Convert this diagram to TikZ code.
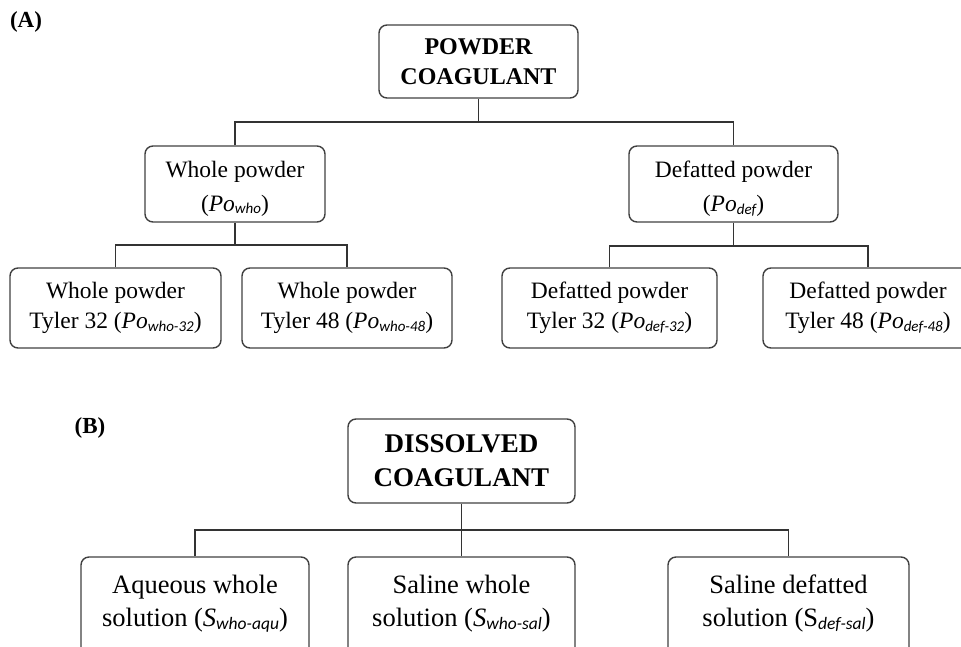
\documentclass[tikz,border=0pt]{standalone}
\usepackage{fontspec}
\setmainfont{Liberation Serif}
\newfontfamily\subfont{Carlito}
\newcommand\sbs[2][15]{\raisebox{-0.12em}{\subfont\itshape\fontsize{#1}{#1}\selectfont #2}}
\begin{document}
\begin{tikzpicture}[x=1pt,y=-1pt,
  box/.style={draw=black!75, line width=1.4pt, rounded corners=8pt, inner sep=0pt, align=center},
  atext/.style={align=center, inner sep=0pt, font=\fontsize{23.5}{34}\selectfont},
  ctext/.style={font=\fontsize{23.5}{30}\selectfont},
  ahead/.style={font=\fontsize{24}{30}\selectfont\bfseries},
  bhead/.style={font=\fontsize{27}{34}\selectfont\bfseries},
  btext/.style={align=center, inner sep=0pt, font=\fontsize{26.5}{33}\selectfont},
  lab/.style={font=\fontsize{23}{24}\selectfont\bfseries, inner sep=0pt},
  conn/.style={draw=black!80, line width=1.3pt}]
\useasboundingbox (0,0) rectangle (961,646);
\clip (0,0) rectangle (961,646);
% (A)
\node[lab] (la) at (26,22) {(A)};
\node[box, ahead, minimum width=199, minimum height=73] (pc) at (478.5,61.5) {POWDER\\COAGULANT};
\node[box, minimum width=180, minimum height=76] (wp) at (235,184) {};
\node[box, minimum width=209, minimum height=76] (dp) at (733.5,184) {};
\node[atext] (wpt) at (235,188.5) {Whole powder\\(\textit{Po}\sbs{who})};
\node[atext] (dpt) at (733.5,188.5) {Defatted powder\\(\textit{Po}\sbs{def})};
\node[box, ctext, minimum width=211, minimum height=80] (w32) at (115.5,308) {Whole powder\\Tyler 32 (\textit{Po}\sbs{who-32})};
\node[box, ctext, minimum width=210, minimum height=80] (w48) at (347,308) {Whole powder\\Tyler 48 (\textit{Po}\sbs{who-48})};
\node[box, ctext, minimum width=215, minimum height=80] (d32) at (609.5,308) {Defatted powder\\Tyler 32 (\textit{Po}\sbs{def-32})};
\node[box, ctext, minimum width=210, minimum height=80] (d48) at (868,308) {Defatted powder\\Tyler 48 (\textit{Po}\sbs{def-48})};
\coordinate (j1) at (478.5,122);
\coordinate (j2) at (235,245);
\coordinate (j3) at (733.5,246);
\draw[conn] (pc.south) -- (j1);
\draw[conn] (wp.north) |- (j1) -| (dp.north);
\draw[conn] (wp.south) -- (j2);
\draw[conn] (w32.north) |- (j2) -| (w48.north);
\draw[conn] (dp.south) -- (j3);
\draw[conn] (d32.north) |- (j3) -| (d48.north);
% (B)
\node[lab] (lb) at (90,428) {(B)};
\node[box, bhead, minimum width=227, minimum height=84] (dc) at (461.5,461) {DISSOLVED\\COAGULANT};
\node[box, minimum width=228, minimum height=103] (aq) at (195,608.5) {};
\node[box, minimum width=227, minimum height=103] (sw) at (461.5,608.5) {};
\node[box, minimum width=241, minimum height=103] (sd) at (788.5,608.5) {};
\node[btext] (aqt) at (195,603.5) {Aqueous whole\\solution (\textit{S}\sbs[17.5]{who-aqu})};
\node[btext] (swt) at (461.5,603.5) {Saline whole\\solution (\textit{S}\sbs[17.5]{who-sal})};
\node[btext] (sdt) at (788.5,603.5) {Saline defatted\\solution (S\sbs[17.5]{def-sal})};
\coordinate (j4) at (461.5,530);
\draw[conn] (dc.south) -- (j4);
\draw[conn] (aq.north) |- (j4) -| (sd.north);
\draw[conn] (j4) -- (sw.north);
\end{tikzpicture}
\end{document}
